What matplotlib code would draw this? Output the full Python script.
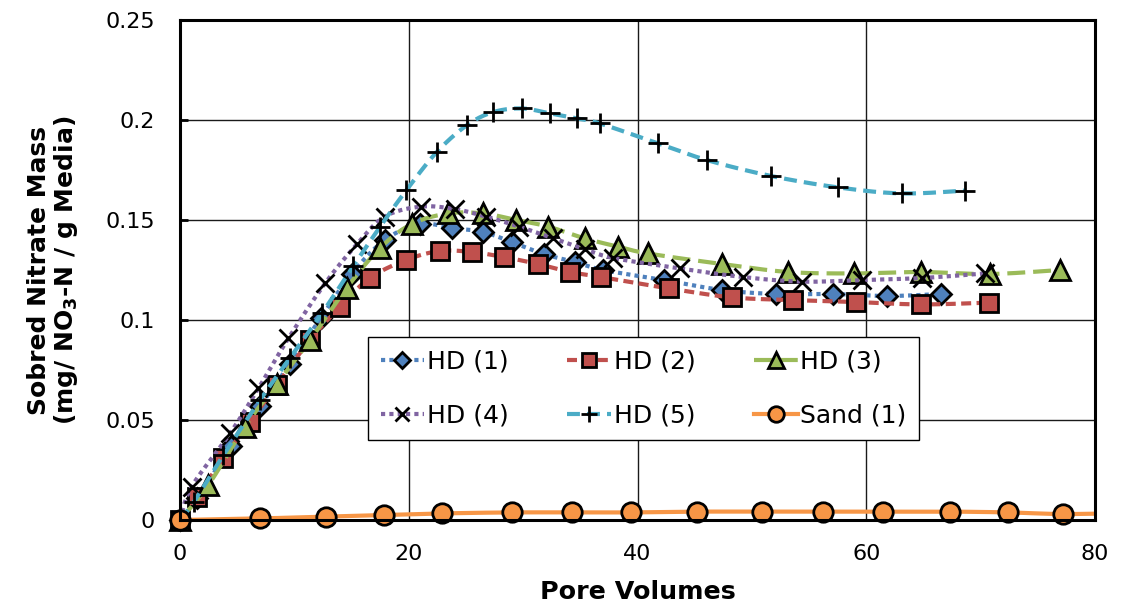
import numpy as np
import matplotlib
matplotlib.use("Agg")
import matplotlib.pyplot as plt
from matplotlib.lines import Line2D

# Pore volumes (x) and sorbed nitrate mass (y) for each column
hd1_x = [0, 1.5, 4.5, 7.0, 9.6, 12.3, 15.0, 17.9, 21.0, 23.75, 26.5, 29.0, 31.8, 34.5, 37.0, 42.3, 47.4, 52.1, 57.1, 61.8, 66.5]
hd1_y = [0, 0.011, 0.037, 0.057, 0.078, 0.101, 0.123, 0.140, 0.148, 0.146, 0.144, 0.139, 0.133, 0.129, 0.125, 0.120, 0.115, 0.113, 0.113, 0.112, 0.113]

hd2_x = [0, 1.46, 3.79, 6.12, 8.45, 11.37, 14.0, 16.6, 19.76, 22.7, 25.5, 28.3, 31.3, 34.1, 36.8, 42.75, 48.3, 53.6, 59.1, 64.8, 70.7]
hd2_y = [0, 0.0117, 0.031, 0.049, 0.0675, 0.090, 0.1067, 0.121, 0.130, 0.1345, 0.134, 0.1315, 0.128, 0.124, 0.1215, 0.1158, 0.1113, 0.110, 0.109, 0.1078, 0.1087]

hd3_x = [0, 2.48, 5.68, 8.45, 11.37, 14.57, 17.49, 20.26, 23.46, 26.5, 29.4, 32.2, 35.4, 38.3, 40.9, 47.4, 53.2, 58.9, 64.8, 70.8, 76.9]
hd3_y = [0, 0.0175, 0.0467, 0.068, 0.090, 0.116, 0.136, 0.148, 0.1533, 0.1533, 0.150, 0.1467, 0.1408, 0.1367, 0.1333, 0.128, 0.124, 0.1233, 0.124, 0.123, 0.125]

hd4_x = [0, 1.02, 4.37, 6.85, 9.47, 12.68, 15.45, 17.9, 21.05, 24.0, 26.75, 29.65, 32.65, 35.4, 37.9, 43.7, 49.2, 54.4, 59.6, 64.85, 70.4]
hd4_y = [0, 0.0167, 0.0433, 0.0658, 0.0908, 0.1183, 0.1378, 0.1517, 0.1567, 0.1555, 0.1517, 0.1467, 0.1408, 0.1354, 0.131, 0.1258, 0.1215, 0.1192, 0.120, 0.121, 0.1233]

hd5_x = [0, 1.2, 3.8, 7.0, 9.6, 12.4, 15.15, 17.5, 19.8, 22.45, 25.1, 27.4, 29.9, 32.35, 34.7, 36.7, 41.8, 46.05, 51.7, 57.55, 63.1, 68.6]
hd5_y = [0, 0.009, 0.0325, 0.060, 0.081, 0.1033, 0.127, 0.1467, 0.165, 0.184, 0.1975, 0.204, 0.2058, 0.2033, 0.2008, 0.1983, 0.1883, 0.180, 0.172, 0.1663, 0.1633, 0.1647]

sand_x = [0, 7.0, 12.8, 17.8, 22.9, 29.0, 34.25, 39.4, 45.2, 50.9, 56.2, 61.5, 67.3, 72.4, 77.2, 83.0]
sand_y = [0, 0.0008, 0.0017, 0.0025, 0.0033, 0.0038, 0.0038, 0.0038, 0.0042, 0.0042, 0.0042, 0.0042, 0.0042, 0.0038, 0.003, 0.0035]

labels = ["HD (1)", "HD (2)", "HD (3)", "HD (4)", "HD (5)", "Sand (1)"]
x_ticks = [0, 20, 40, 60, 80]
y_ticks = [0, 0.05, 0.1, 0.15, 0.2, 0.25]
y_tick_labels = ["0", "0.05", "0.1", "0.15", "0.2", "0.25"]

plt.rcParams["font.family"] = ["DejaVu Sans"]


def smooth(x, y, n=24):
    """Cardinal (Catmull-Rom) smoothing through the points, like a spreadsheet smoothed line."""
    x = np.asarray(x, float)
    y = np.asarray(y, float)
    px = np.concatenate([[x[0]], x, [x[-1]]])
    py = np.concatenate([[y[0]], y, [y[-1]]])
    t = np.linspace(0, 1, n, endpoint=False)[:, None]
    xs, ys = [], []
    for i in range(1, len(px) - 2):
        p0 = np.array([px[i - 1], py[i - 1]])
        p1 = np.array([px[i], py[i]])
        p2 = np.array([px[i + 1], py[i + 1]])
        p3 = np.array([px[i + 2], py[i + 2]])
        c1 = p1 + (p2 - p0) / 6.0
        c2 = p2 - (p3 - p1) / 6.0
        b = ((1 - t) ** 3) * p1 + 3 * ((1 - t) ** 2) * t * c1 + 3 * (1 - t) * t ** 2 * c2 + t ** 3 * p2
        xs.append(b[:, 0])
        ys.append(b[:, 1])
    xs.append([x[-1]])
    ys.append([y[-1]])
    return np.concatenate(xs), np.concatenate(ys)


fig = plt.figure(figsize=(11.21, 6.07), dpi=100)
ax = fig.add_axes([0.1606, 0.1433, 0.8162, 0.8237])

xmin, xmax = 0, 80
ymin, ymax = 0, 0.25

series = [
    dict(x=hd1_x, y=hd1_y, color="#4F81BD", dashes=(1.0, 1.0), marker="D", ms=10, mfc="#4F81BD", mec="black", mew=2.0),
    dict(x=hd2_x, y=hd2_y, color="#C0504D", dashes=(2.4, 1.3), marker="s", ms=13, mfc="#C0504D", mec="black", mew=2.0),
    dict(x=hd3_x, y=hd3_y, color="#9BBB59", dashes=(4.3, 1.9), marker="^", ms=14, mfc="#9BBB59", mec="black", mew=2.0),
    dict(x=hd4_x, y=hd4_y, color="#8064A2", dashes=(1.0, 1.0), marker="x", ms=13, mfc="none", mec="black", mew=2.0),
    dict(x=hd5_x, y=hd5_y, color="#4BACC6", dashes=(3.1, 1.7), marker="+", ms=15, mfc="none", mec="black", mew=2.0),
    dict(x=sand_x, y=sand_y, color="#F79646", dashes=None, marker="o", ms=14, mfc="#F79646", mec="black", mew=2.0),
]

lw = 3.0
handles = []
for k, s in enumerate(series):
    z = 3 + k
    sx, sy = smooth(s["x"], s["y"])
    line, = ax.plot(sx, sy, color=s["color"], lw=lw, zorder=z, solid_capstyle="butt",
                    dash_capstyle="butt")
    if s["dashes"] is not None:
        line.set_dashes(s["dashes"])
    xv = np.asarray(s["x"], float)
    yv = np.asarray(s["y"], float)
    inside = xv <= xmax
    ax.plot(xv[inside], yv[inside], linestyle="none", marker=s["marker"], ms=s["ms"],
            mfc=s["mfc"], mec=s["mec"], mew=s["mew"], zorder=z + 0.5, clip_on=False)
    h = Line2D([], [], color=s["color"], lw=lw, marker=s["marker"], ms=s["ms"] * 0.8,
               mfc=s["mfc"], mec=s["mec"], mew=s["mew"], dash_capstyle="butt")
    if s["dashes"] is not None:
        h.set_dashes(s["dashes"])
    handles.append(h)

ax.set_xlim(xmin, xmax)
ax.set_ylim(ymin, ymax)
ax.set_xticks(x_ticks)
ax.set_yticks(y_ticks)
ax.set_yticklabels(y_tick_labels)

ax.grid(True, color="#1a1a1a", lw=1.0, zorder=1)
ax.set_axisbelow(True)
for sp in ax.spines.values():
    sp.set_linewidth(2.2)
    sp.set_color("black")
    sp.set_zorder(20)

ax.tick_params(axis="x", length=0, pad=17, labelsize=16, colors="black")
ax.tick_params(axis="y", direction="in", length=6, width=2, pad=18, labelsize=16, colors="black")

ax.set_xlabel("Pore Volumes", fontsize=18.3, fontweight="bold", labelpad=12)
ax.set_ylabel("Sobred Nitrate Mass\n" + r"(mg/ NO$_\mathbf{3}$-N / g Media)", fontsize=18,
              fontweight="bold", labelpad=18, linespacing=1.05)

order = [0, 3, 1, 4, 2, 5]
leg = ax.legend([handles[i] for i in order], [labels[i] for i in order], ncol=3,
                loc="upper left", bbox_to_anchor=(0.2055, 0.366), fontsize=18,
                frameon=True, fancybox=False, edgecolor="black", framealpha=1,
                handlelength=1.75, handletextpad=0.1, columnspacing=2.35,
                labelspacing=1.2, borderpad=0.5, borderaxespad=0)
leg.get_frame().set_linewidth(1.0)
leg.set_zorder(30)

fig.savefig("out.png", dpi=100)
